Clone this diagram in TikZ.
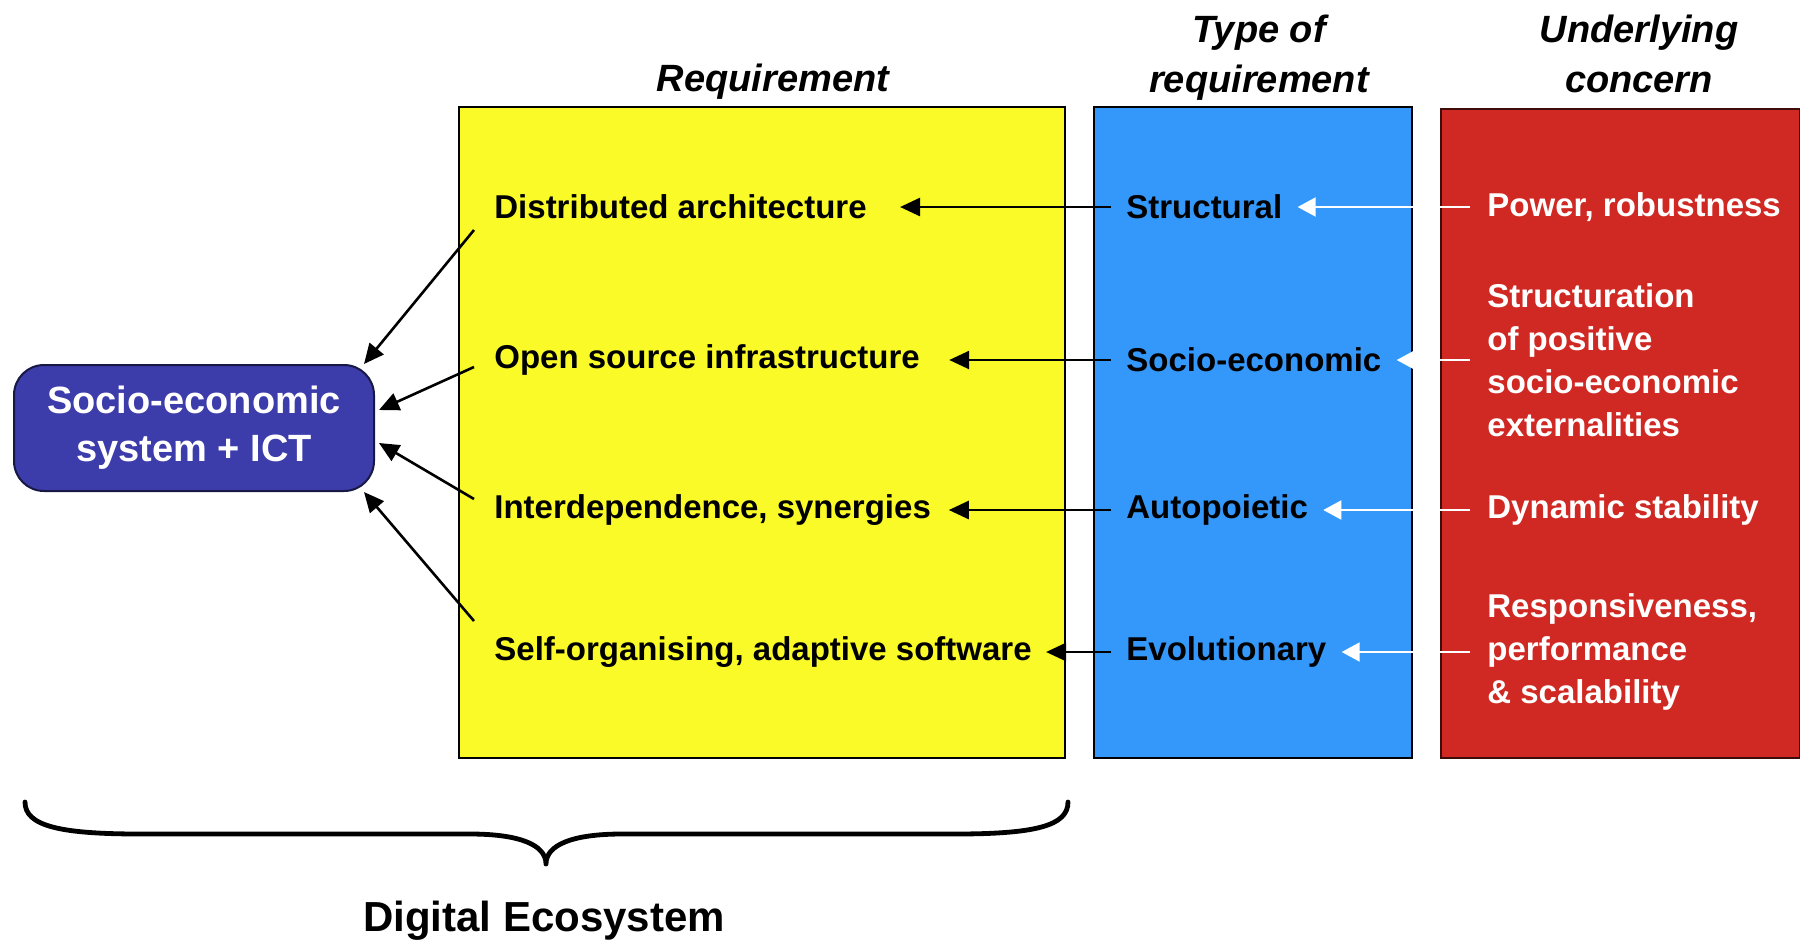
\documentclass[tikz,border=0pt]{standalone}
\usepackage{fontspec}
\setmainfont{Liberation Sans}
\usetikzlibrary{arrows.meta}
\definecolor{yel}{RGB}{250,250,40}
\definecolor{blu}{RGB}{52,152,250}
\definecolor{rd}{RGB}{208,40,34}
\definecolor{ictblue}{RGB}{60,60,170}
\tikzset{
  txt/.style={inner sep=0pt, anchor=west, font=\fontsize{16.5pt}{21.5pt}\selectfont\bfseries, align=left},
  wtxt/.style={txt, text=white},
  hdr/.style={inner sep=0pt, align=center, font=\fontsize{19pt}{25pt}\selectfont\bfseries\itshape},
  blk/.style={draw=black, line width=1.3pt, -{Triangle[length=10pt,width=9pt]}},
  wht/.style={draw=white, line width=1pt, -{Triangle[length=9pt,width=9.5pt]}},
  colbox/.style={draw=black, line width=1pt}
}
\begin{document}
\begin{tikzpicture}[x=0.5pt,y=-0.5pt]
\useasboundingbox (0,0) rectangle (1800,944);
\fill[white] (0,0) rectangle (1800,944);
% column boxes
\draw[colbox, fill=yel] (459,107) rectangle (1065,758);
\draw[colbox, fill=blu] (1094,107) rectangle (1412,758);
\draw[colbox, draw=black!70!rd, fill=rd] (1441,109) rectangle (1800,758);
% headers
\node[hdr] (h1) at (773,82) {Requirement};
\node[hdr] (h2) at (1259,58) {Type of\\requirement};
\node[hdr] (h3) at (1639,54) {Underlying\\concern};
% ICT node
\node[draw=black!60!ictblue, line width=1pt, fill=ictblue, rounded corners=15pt,
      minimum width=180pt, minimum height=63pt, inner sep=0pt, text=white,
      align=center, font=\fontsize{19pt}{24pt}\selectfont\bfseries] (ict) at (194,428)
      {Socio-economic\\system + ICT};
% requirement texts
\node[txt] (r1) at (494,207) {Distributed architecture};
\node[txt] (r2) at (494,360) {Open source infrastructure};
\node[txt] (r3) at (494,510) {Interdependence, synergies};
\node[txt] (r4) at (494,652) {Self-organising, adaptive software};
% type texts
\node[txt] (t1) at (1126,207) {Structural};
\node[txt] (t2) at (1126,360) {Socio-economic};
\node[txt] (t3) at (1126,510) {Autopoietic};
\node[txt] (t4) at (1126,652) {Evolutionary};
% concern texts
\node[wtxt] (c1) at (1487,207) {Power, robustness};
\node[wtxt] (c2) at (1487,360) {Structuration\\of positive\\socio-economic\\externalities};
\node[wtxt] (c3) at (1487,510) {Dynamic stability};
\node[wtxt] (c4) at (1487,652) {Responsiveness,\\performance\\\& scalability};
% black arrows type -> requirement
\draw[blk, shorten <=7.5pt, shorten >=16.5pt] (t1.west) -- (r1.east);
\draw[blk, shorten <=7.5pt, shorten >=14.5pt] (t2.west) -- (r2.east);
\draw[blk, shorten <=7.5pt, shorten >=8.75pt] (t3.west) -- (r3.east);
\draw[blk, shorten <=7.5pt, shorten >=7pt] (t4.west) -- (r4.east);
% white arrows concern -> type
\draw[wht, shorten <=8.5pt, shorten >=7.5pt] (c1.west) -- (t1.east);
\draw[wht, shorten <=8.5pt, shorten >=7.5pt] (c2.west |- t2.east) -- (t2.east);
\draw[wht, shorten <=8.5pt, shorten >=7.5pt] (c3.west) -- (t3.east);
\draw[wht, shorten <=8.5pt, shorten >=7.5pt] (c4.west |- t4.east) -- (t4.east);
% arrows requirement -> ICT
\draw[blk] ([shift={(-20,23)}]r1.west) -- ([shift={(-11,0)}]ict.north east);
\draw[blk] ([shift={(-20,7)}]r2.west) -- ([shift={(4,-18)}]ict.east);
\draw[blk] ([shift={(-20,-11)}]r3.west) -- ([shift={(4,15)}]ict.east);
\draw[blk] ([shift={(-20,-31)}]r4.west) -- ([shift={(-11,0)}]ict.south east);
% brace
\draw[line width=2.4pt, line cap=round, line join=round]
  (25,802) .. controls (25,826) and (60,834) .. (140,834) -- (470,834)
  .. controls (520,834) and (546,845) .. (546,864)
  .. controls (546,845) and (572,834) .. (622,834) -- (955,834)
  .. controls (1035,834) and (1068,826) .. (1068,802);
\node[inner sep=0pt, font=\fontsize{21pt}{25pt}\selectfont\bfseries] (de) at (544,921) {Digital Ecosystem};
\end{tikzpicture}
\end{document}
